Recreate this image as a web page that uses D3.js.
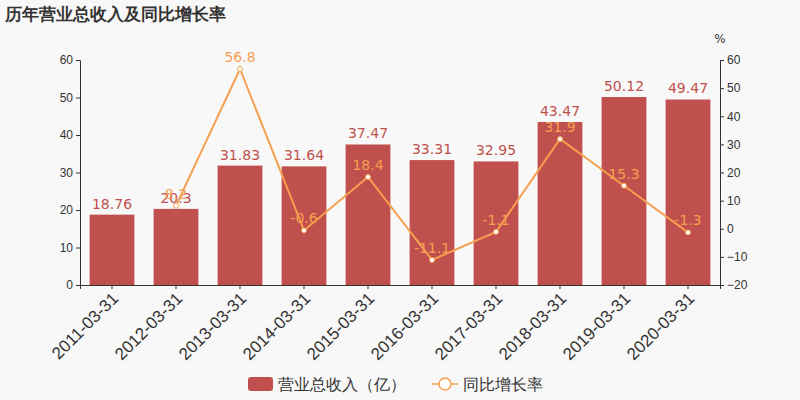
<!DOCTYPE html><html><head><meta charset="utf-8"><script src="https://cdn.jsdelivr.net/npm/d3@7"></script>
<style>body{margin:0;background:#f8f8f8}svg{font-family:"DejaVu Sans",sans-serif}</style></head><body>
<svg id="c" width="800" height="400"></svg>
<script>
const categories=["2011-03-31","2012-03-31","2013-03-31","2014-03-31","2015-03-31","2016-03-31","2017-03-31","2018-03-31","2019-03-31","2020-03-31"];
const revenue=[18.76,20.3,31.83,31.64,37.47,33.31,32.95,43.47,50.12,49.47];
const growth=[null,8.2,56.8,-0.6,18.4,-11.1,-1.1,31.9,15.3,-1.3];
const leftTicks=[0,10,20,30,40,50,60];
const rightTicks=[-20,-10,0,10,20,30,40,50,60];
const barC="#c0504d",lineC="#f5a050";
const svg=d3.select("#c");
svg.append("rect").attr("width",800).attr("height",400).attr("fill","#f8f8f8");
svg.append("text").attr("x",5).attr("y",20).text("历年营业总收入及同比增长率").attr("font-size",17).attr("font-weight","bold").attr("fill","#333");
const x=d3.scaleBand().domain(categories).range([80,720]).paddingInner(0.3).paddingOuter(0.15);
const yL=d3.scaleLinear().domain([0,60]).range([285,60]);
const yR=d3.scaleLinear().domain([-20,60]).range([285,60]);
const gl=svg.append("g").attr("transform","translate(80,0)").call(d3.axisLeft(yL).tickValues(leftTicks).tickSize(4));
const gr=svg.append("g").attr("transform","translate(720,0)").call(d3.axisRight(yR).tickValues(rightTicks).tickSize(4));
const gx=svg.append("g").attr("transform","translate(0,285)").call(d3.axisBottom(x).tickSize(4));
[gl,gr,gx].forEach(g=>{g.selectAll("path,line").attr("stroke","#333");g.selectAll("text").attr("fill","#333").attr("font-size",12)});
gx.selectAll("text").attr("font-size",17).attr("text-anchor","end").attr("dx","-0.3em").attr("dy","0.5em").attr("transform","rotate(-45)");
svg.append("text").attr("x",720).attr("y",43).text("%").attr("font-size",12).attr("fill","#333").attr("text-anchor","middle");
svg.selectAll(".b").data(revenue).join("rect").attr("x",(d,i)=>x(categories[i])).attr("width",x.bandwidth()).attr("y",d=>yL(d)).attr("height",d=>285-yL(d)).attr("fill",barC);
svg.selectAll(".bl").data(revenue).join("text").attr("x",(d,i)=>x(categories[i])+x.bandwidth()/2).attr("y",d=>yL(d)-6).text(d=>d).attr("text-anchor","middle").attr("font-size",14).attr("fill",barC);
const pts=growth.map((g,i)=>({g,c:categories[i]})).filter(p=>p.g!==null);
const cx=p=>x(p.c)+x.bandwidth()/2;
svg.append("path").datum(pts).attr("d",d3.line().x(cx).y(p=>yR(p.g))).attr("fill","none").attr("stroke",lineC).attr("stroke-width",2);
svg.selectAll(".pt").data(pts).join("circle").attr("cx",cx).attr("cy",p=>yR(p.g)).attr("r",2.5).attr("fill","#fff").attr("stroke",lineC);
svg.selectAll(".pl").data(pts).join("text").attr("x",cx).attr("y",p=>yR(p.g)-7).text(p=>p.g).attr("text-anchor","middle").attr("font-size",14).attr("fill",lineC);
const lg=svg.append("g");
lg.append("rect").attr("x",248).attr("y",377).attr("width",25).attr("height",14).attr("rx",3).attr("fill",barC);
lg.append("text").attr("x",278).attr("y",390).text("营业总收入（亿）").attr("font-size",16).attr("fill","#333");
lg.append("line").attr("x1",432).attr("x2",458).attr("y1",384).attr("y2",384).attr("stroke",lineC).attr("stroke-width",1.5);
lg.append("circle").attr("cx",445).attr("cy",384).attr("r",6).attr("fill","#fff").attr("stroke",lineC).attr("stroke-width",1.5);
lg.append("text").attr("x",463).attr("y",390).text("同比增长率").attr("font-size",16).attr("fill","#333");
</script></body></html>
